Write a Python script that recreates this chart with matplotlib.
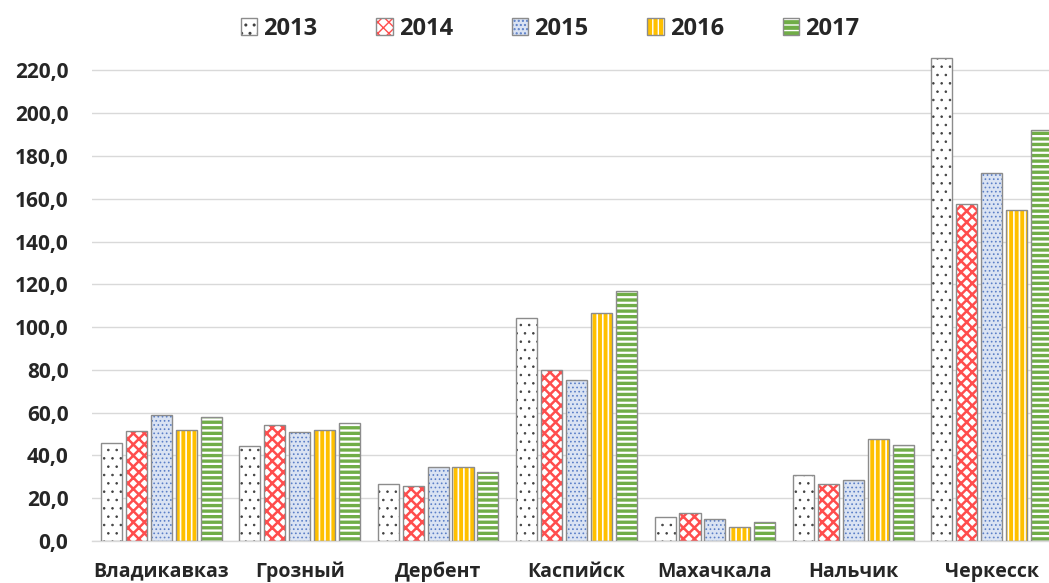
import numpy as np
import matplotlib
matplotlib.use("Agg")
import matplotlib.pyplot as plt
from matplotlib.patches import Patch
from matplotlib.legend_handler import HandlerTuple

plt.rcParams["font.family"] = ["Open Sans", "DejaVu Sans"]

# ---------------------------------------------------------------------------
# Data
# ---------------------------------------------------------------------------
cities = ["Владикавказ", "Грозный", "Дербент", "Каспийск",
          "Махачкала", "Нальчик", "Черкесск"]
years = ["2013", "2014", "2015", "2016", "2017"]

v2013 = [45.8, 44.4, 26.6, 104.2, 11.2, 30.8, 226.0]
v2014 = [51.4, 54.2, 25.7, 79.9, 13.0, 26.6, 157.5]
v2015 = [58.9, 50.9, 34.6, 75.2, 10.3, 28.5, 172.0]
v2016 = [51.9, 51.9, 34.6, 106.5, 6.5, 47.7, 154.7]
v2017 = [57.9, 55.1, 32.2, 116.8, 9.0, 44.9, 192.0]
series = [v2013, v2014, v2015, v2016, v2017]

# face colour, hatch pattern, hatch colour, hatch linewidth per year
STYLES = [
    ("white",   "..",   "#404040", 0.6),
    ("white",   "xxx",  "#ff4d4d", 1.8),
    ("#dae3f3", "....", "#5b7fc7", 0.7),
    ("#ffc000", "|||",  "white",   1.2),
    ("#70ad47", "---",  "white",   1.6),
]
EDGE = "#8c8c8c"


def set_hlw(artist, lw):
    if hasattr(artist, "set_hatch_linewidth"):
        artist.set_hatch_linewidth(lw)


W, H = 1049, 583
fig = plt.figure(figsize=(W / 100, H / 100), dpi=100)
ax = fig.add_axes([92 / W, (H - 541) / H, 969 / W, 492 / H])

x = np.arange(len(cities))
step, bw = 0.18, 0.152
for i, (vals, (fc, hatch, hc, hlw)) in enumerate(zip(series, STYLES)):
    pos = x + (i - 2) * step
    # fill + hatch layer, then a plain outline on top
    with plt.rc_context({"hatch.linewidth": hlw}):
        bars = ax.bar(pos, vals, width=bw, color=fc, hatch=hatch,
                      edgecolor=hc, linewidth=0, zorder=2)
    for b in bars:
        set_hlw(b, hlw)
    ax.bar(pos, vals, width=bw, color="none", edgecolor=EDGE,
           linewidth=1.0, zorder=3)

ax.set_xlim(-0.5, len(cities) - 0.5)
ax.set_ylim(0, 230)
ticks = np.arange(0, 221, 20)
ax.set_yticks(ticks)
ax.set_yticklabels([f"{t:.1f}".replace(".", ",") for t in ticks])
ax.set_xticks(x)
ax.set_xticklabels(cities)

ax.grid(axis="y", color="#d9d9d9", linewidth=1.0, zorder=0)
ax.set_axisbelow(True)
for s in ["top", "right", "left"]:
    ax.spines[s].set_visible(False)
ax.spines["bottom"].set_color("#d9d9d9")
ax.spines["bottom"].set_linewidth(1.0)
ax.tick_params(axis="both", length=0, colors="#262626")
ax.tick_params(axis="x", pad=15, labelsize=14)
ax.tick_params(axis="y", pad=17, labelsize=15)
for lab in ax.get_xticklabels() + ax.get_yticklabels():
    lab.set_fontweight("bold")

handles = []
for fc, hatch, hc, hlw in STYLES:
    with plt.rc_context({"hatch.linewidth": hlw}):
        p1 = Patch(facecolor=fc, hatch=hatch, edgecolor=hc, linewidth=0)
    set_hlw(p1, hlw)
    p2 = Patch(facecolor="none", edgecolor=EDGE, linewidth=1.0)
    handles.append((p1, p2))

leg = fig.legend(handles=handles, labels=years, loc="center", ncol=5,
                 handler_map={tuple: HandlerTuple(ndivide=1)},
                 bbox_to_anchor=(550 / W, 1 - 29 / H), frameon=False,
                 handlelength=0.7, handleheight=0.7, handletextpad=0.25,
                 columnspacing=2.5,
                 prop={"weight": "bold", "size": 17})
for t in leg.get_texts():
    t.set_color("#262626")

fig.savefig("out.png", dpi=100)
